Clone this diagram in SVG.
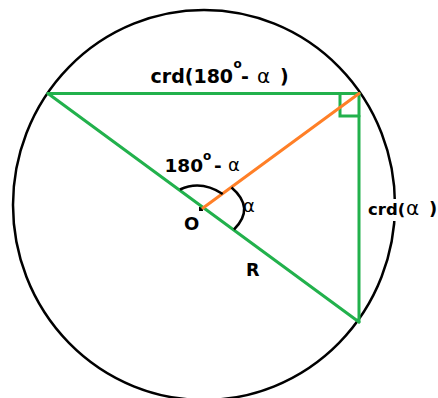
<svg xmlns="http://www.w3.org/2000/svg" width="438" height="398" viewBox="0 0 438 398">
  <style>
    .g { stroke: #22b14c; stroke-width: 3; fill: none; stroke-linecap: round; }
    .o { stroke: #ff7f27; stroke-width: 3; fill: none; stroke-linecap: round; }
    .k { stroke: #000; stroke-width: 2.5; fill: none; }
    .t { font-family: "DejaVu Sans", Verdana, sans-serif; font-weight: bold; fill: #000; }
    .a { font-family: "DejaVu Sans", sans-serif; font-weight: normal; fill: #000; }
  </style>
  <rect width="438" height="398" fill="#fff"/>
  <g id="circle">
    <ellipse class="k" cx="204" cy="205" rx="191" ry="195"/>
  </g>
  <g id="center-O">
    <rect x="199" y="207" width="4" height="4" fill="#000"/>
  </g>
  <g id="connectors">
    <line class="g" x1="48" y1="93.5" x2="359" y2="93.5"/>
    <line class="g" x1="359" y1="93.5" x2="359" y2="322"/>
    <line class="g" x1="48" y1="93.5" x2="359" y2="322"/>
    <polyline class="g" points="340,93.5 340,116 359,116" stroke-linecap="butt"/>
    <line class="o" x1="203" y1="208" x2="359" y2="93.5"/>
  </g>
  <g id="angle-arcs">
    <path class="k" d="M180,189.5 Q201,179.8 222.7,194"/>
    <path class="k" d="M231.5,187.5 Q255.5,208 234,229.5"/>
  </g>
  <g id="label-top">
    <text class="t" font-size="19" x="150.5" y="83">crd(180<tspan font-size="12" x="233.5" y="68">o</tspan><tspan x="241" y="83">-</tspan><tspan class="a" font-size="20" x="257" y="83">α</tspan><tspan x="280" y="83">)</tspan></text>
  </g>
  <g id="label-angle-big">
    <text class="t" font-size="18.5" x="164.5" y="172">180<tspan font-size="12" x="203" y="160">o</tspan><tspan x="214" y="172">-</tspan><tspan class="a" font-size="18" x="228" y="171">α</tspan></text>
  </g>
  <g id="label-O">
    <text class="t" font-size="18" x="184" y="230">O</text>
  </g>
  <g id="label-alpha">
    <text class="a" font-size="18" x="243" y="212">α</text>
  </g>
  <g id="label-R">
    <text class="t" font-size="17.5" x="246" y="276">R</text>
  </g>
  <g id="label-right">
    <rect x="366" y="199" width="72" height="22" fill="#fff"/>
    <text class="t" font-size="16.5" x="368" y="215">crd(<tspan class="a" font-size="20" x="406" y="215">α</tspan><tspan font-size="18" x="429" y="215">)</tspan></text>
  </g>
</svg>
